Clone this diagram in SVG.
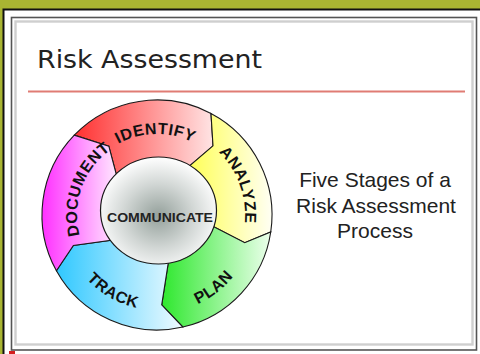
<svg xmlns="http://www.w3.org/2000/svg" width="480" height="354" viewBox="0 0 480 354">
<style>
.seg{stroke:#1a1a1a;stroke-width:1.1;stroke-linejoin:miter}
.lbl{font-family:"Liberation Sans",Arial,sans-serif;font-weight:bold;font-size:16px;fill:#111;letter-spacing:0.6px}
.side{font-family:"Liberation Sans",Arial,sans-serif;font-size:21px;fill:#222;text-anchor:middle}
</style>
<defs>
<linearGradient id="gRed" x1="0" y1="0" x2="1" y2="0"><stop offset="0" stop-color="#ff3030"/><stop offset="1" stop-color="#ffe4e4"/></linearGradient>
<linearGradient id="gYel" x1="0" y1="0" x2="1" y2="0"><stop offset="0" stop-color="#ffff40"/><stop offset="1" stop-color="#fffff4"/></linearGradient>
<linearGradient id="gGrn" x1="0" y1="0" x2="1" y2="0"><stop offset="0" stop-color="#2ee82e"/><stop offset="1" stop-color="#ecffec"/></linearGradient>
<linearGradient id="gCyn" x1="0" y1="0" x2="1" y2="0"><stop offset="0" stop-color="#30c8ff"/><stop offset="1" stop-color="#f0fbff"/></linearGradient>
<linearGradient id="gMag" x1="0" y1="0" x2="1" y2="0"><stop offset="0" stop-color="#ff30ff"/><stop offset="1" stop-color="#fff0ff"/></linearGradient>
<radialGradient id="gHub" cx="0.5" cy="0.55" r="0.55"><stop offset="0" stop-color="#94a09b"/><stop offset="0.55" stop-color="#d2d7d5"/><stop offset="1" stop-color="#ffffff"/></radialGradient>
<path id="tpIdentify" d="M 86.16,175.73 A 81 81 0 0 1 226.43,173.28"/>
<path id="tpAnalyze" d="M 172.28,128.34 A 88 88 0 0 1 224.41,271.57"/>
<path id="tpDocument" d="M 95.72,266.42 A 80 80 0 0 1 143.11,136.22"/>
<path id="tpTrack" d="M 62,215 A 95 95 0 0 0 204.5,297.27"/>
<path id="tpPlan" d="M 120.29,305.87 A 98 98 0 0 0 254.05,201.36"/>
</defs>

<!-- frame -->
<rect x="0" y="0" width="480" height="354" fill="#a9b532"/>
<rect x="3.5" y="9.5" width="490" height="360" fill="#ffffff" stroke="#111" stroke-width="2"/>
<rect x="11.5" y="17.5" width="465" height="332.5" fill="none" stroke="#555" stroke-width="1.6"/>
<rect x="15.5" y="21.5" width="457" height="323" fill="#ffffff" stroke="#cfcfcf" stroke-width="2.4"/>
<rect x="9" y="351" width="6" height="3" fill="#d42020"/>

<g id="title">
<text x="37" y="68" font-family="DejaVu Sans,Verdana,sans-serif" font-size="25" fill="#222" textLength="225" lengthAdjust="spacingAndGlyphs">Risk Assessment</text>
<line x1="28" y1="91.5" x2="465" y2="91.5" stroke="#e07c74" stroke-width="2"/>
</g>

<g id="wheel">
<g id="identify">
<path class="seg" fill="url(#gRed)" d="M 74.28,135.11 A 115 115 0 0 1 210.99,113.47 L 213.01,145.84 L 177.66,176.15 A 44 44 0 0 0 120.52,190.40 L 108.82,146.19 Z"/>
<text class="lbl"><textPath href="#tpIdentify" startOffset="50%" text-anchor="middle">IDENTIFY</textPath></text>
</g>
<g id="analyze">
<path class="seg" fill="url(#gYel)" d="M 210.99,113.47 A 115 115 0 0 1 270.74,232.0 L 244.74,242.67 L 200.72,219.98 A 44 44 0 0 0 177.66,176.15 L 213.01,145.84 Z"/>
<text class="lbl"><textPath href="#tpAnalyze" startOffset="50%" text-anchor="middle">ANALYZE</textPath></text>
</g>
<g id="plan">
<path class="seg" fill="url(#gGrn)" d="M 270.74,232.0 A 115 115 0 0 1 182.87,327.05 L 161.71,304.88 L 169.13,257.30 A 44 44 0 0 0 200.72,219.98 L 244.74,242.67 Z"/>
<text class="lbl"><textPath href="#tpPlan" startOffset="50%" text-anchor="middle">PLAN</textPath></text>
</g>
<g id="track">
<path class="seg" fill="url(#gCyn)" d="M 182.87,327.05 A 115 115 0 0 1 56.42,270.76 L 73.37,245.44 L 120.10,238.96 A 44 44 0 0 0 169.13,257.30 L 161.71,304.88 Z"/>
<text class="lbl"><textPath href="#tpTrack" startOffset="50%" text-anchor="middle">TRACK</textPath></text>
</g>
<g id="document">
<path class="seg" fill="url(#gMag)" d="M 56.42,270.76 A 115 115 0 0 1 74.28,135.11 L 108.82,146.19 L 120.52,190.40 A 44 44 0 0 0 120.10,238.96 L 73.37,245.44 Z"/>
<text class="lbl"><textPath href="#tpDocument" startOffset="50%" text-anchor="middle">DOCUMENT</textPath></text>
</g>
<g id="communicate">
<ellipse cx="158.5" cy="210.5" rx="58" ry="53.5" fill="url(#gHub)" stroke="#1a1a1a" stroke-width="1.2"/>
<text x="160" y="222" font-family="Liberation Sans,Arial,sans-serif" font-weight="bold" font-size="13.5" fill="#222" text-anchor="middle" textLength="106" lengthAdjust="spacingAndGlyphs">COMMUNICATE</text>
</g>
</g>

<g id="caption">
<text class="side" x="375" y="187">Five Stages of a</text>
<text class="side" x="376" y="213">Risk Assessment</text>
<text class="side" x="375" y="238">Process</text>
</g>
</svg>
